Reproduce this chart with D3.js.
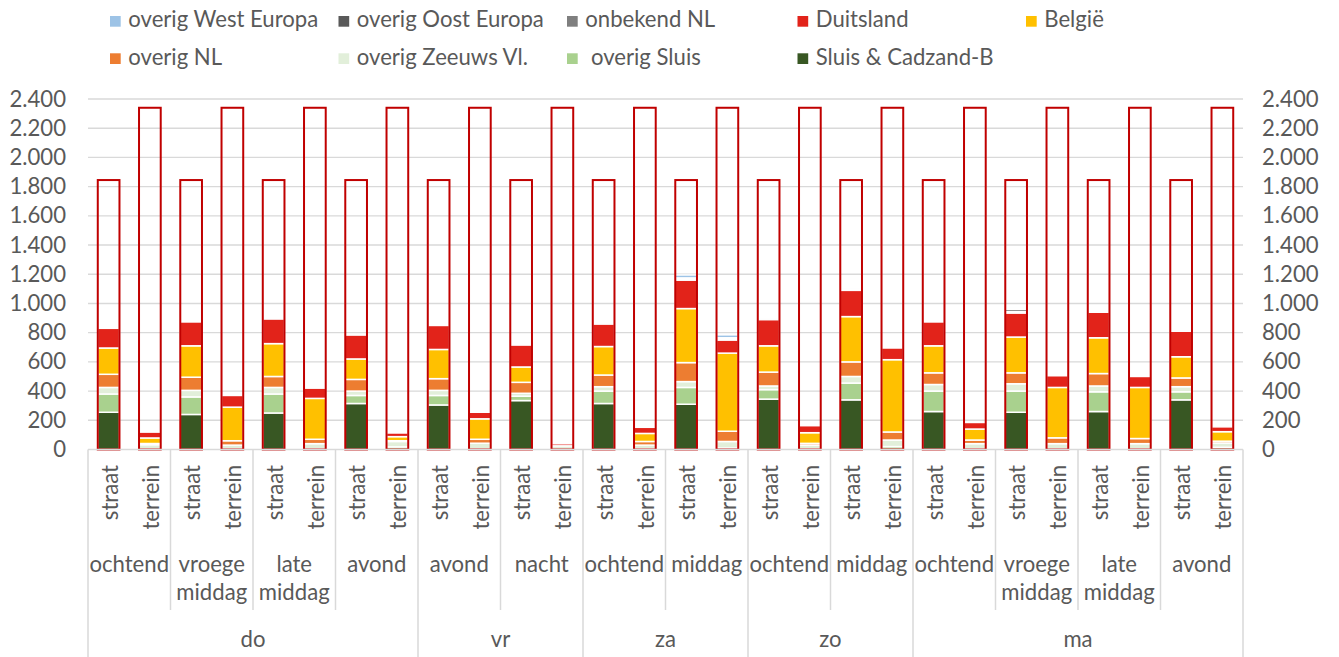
<!DOCTYPE html>
<html>
<head>
<meta charset="utf-8">
<script src="https://cdn.jsdelivr.net/npm/d3@7"></script>
<style>
  html, body { margin: 0; padding: 0; background: #ffffff; }
  svg text { font-family: Lato, "Open Sans", sans-serif; fill: #595959; white-space: pre; }
</style>
</head>
<body>
<svg id="chart" width="1339" height="657"></svg>
<script>
// ---------- data ----------
const days = ["do", "vr", "za", "zo", "ma"];
const dayPeriodCounts = [4, 2, 2, 2, 4];
const periods = ["ochtend", "vroege\nmiddag", "late\nmiddag", "avond",
                 "avond", "nacht",
                 "ochtend", "middag",
                 "ochtend", "middag",
                 "ochtend", "vroege\nmiddag", "late\nmiddag", "avond"];
const locations = ["straat", "terrein"];
const capacity = [1845, 2340]; // straat, terrein

const seriesNames = ["Sluis & Cadzand-B", " overig Sluis", "overig Zeeuws Vl.", "overig NL",
                     "België", "Duitsland", "onbekend NL", "overig Oost Europa", "overig West Europa"];
const seriesColors = ["#385723", "#A9D18E", "#E2EFDA", "#ED7D31",
                      "#FFC000", "#E2231A", "#7F7F7F", "#595959", "#9DC3E6"];

const sluisCadzand = [255,0,240,0,250,0,315,0,305,0,335,0,315,0,310,0,345,0,340,0,260,0,255,0,260,0,340,0];
const overigSluis  = [125,3,120,5,130,5,55,18,65,3,30,0,85,5,115,10,65,5,115,20,140,5,145,5,135,5,55,15];
const overigZeeuws = [45,30,45,25,45,35,30,37,35,40,20,25,30,25,40,45,25,25,45,45,45,35,50,35,40,35,35,30];
const overigNL     = [90,8,90,30,75,30,80,5,80,27,75,0,80,25,130,70,95,12,100,55,80,25,75,40,85,35,60,12];
const belgie       = [180,38,215,230,225,280,140,28,200,140,105,0,195,55,370,535,180,73,310,495,185,75,245,345,245,350,145,65];
const duitsland    = [135,40,165,80,170,70,165,25,165,45,150,14,155,42,195,90,180,48,180,80,165,45,165,80,175,75,175,33];
const onbekendNL   = [3,0,3,0,3,0,2,0,3,0,0,0,5,0,10,10,3,0,10,0,5,0,10,0,10,0,2,0];
const oostEuropa   = [2,0,2,0,2,0,0,0,2,0,0,0,3,0,5,5,2,0,5,0,3,0,15,0,5,0,0,0];
const westEuropa   = [2,0,2,0,2,0,0,0,2,0,0,0,2,0,20,20,0,0,5,0,7,0,10,0,10,0,0,0];

const seriesValues = [sluisCadzand, overigSluis, overigZeeuws, overigNL, belgie,
                      duitsland, onbekendNL, oostEuropa, westEuropa];
const legendOrder = [8, 7, 6, 5, 4, 3, 2, 1, 0];
const yTicks = d3.range(0, 2401, 200);

// ---------- layout ----------
const W = 1339, H = 657;
const plotL = 88, plotR = 1243, plotT = 99, plotB = 449.5;
const svg = d3.select("#chart");
svg.append("rect").attr("width", W).attr("height", H).attr("fill", "#fff");

// font fit: Calibri-like width
const probe = svg.append("text").attr("font-size", 100).text("overig West Europa");
const pw = probe.node().getComputedTextLength();
probe.remove();
const FS = Math.min(26, 100 * 190 / pw);

const nBars = periods.length * locations.length;
const x = d3.scaleBand().domain(d3.range(nBars)).range([plotL, plotR])
  .paddingInner(0.474).paddingOuter(0.237);
const y = d3.scaleLinear().domain([0, 2400]).range([plotB, plotT]);
const step = x.step();

const loc = d3.formatLocale({decimal: ",", thousands: ".", grouping: [3], currency: ["", ""]});
const fmt = loc.format(",d");

// gridlines
svg.append("g").selectAll("line").data(yTicks.filter(d => d > 0)).join("line")
  .attr("x1", plotL).attr("x2", plotR)
  .attr("y1", d => y(d)).attr("y2", d => y(d))
  .attr("stroke", "#D9D9D9").attr("stroke-width", 1.4);

// axes tick labels
const leftAxis = d3.axisLeft(y).tickValues(yTicks).tickFormat(fmt).tickSize(0).tickPadding(0);
const gl = svg.append("g").attr("transform", `translate(66,0)`).call(leftAxis);
gl.select(".domain").remove();
gl.selectAll("text").attr("font-size", FS).attr("fill", "#595959")
  .style("font-family", "Lato, 'Open Sans', sans-serif");
const rightAxis = d3.axisRight(y).tickValues(yTicks).tickFormat(fmt).tickSize(0).tickPadding(0);
const gr = svg.append("g").attr("transform", `translate(1262,0)`).call(rightAxis);
gr.select(".domain").remove();
gr.selectAll("text").attr("font-size", FS).attr("fill", "#595959")
  .style("font-family", "Lato, 'Open Sans', sans-serif");

// stacked bars
const barIdx = d3.range(nBars);
const stackData = barIdx.map(i => {
  const o = {i};
  seriesValues.forEach((arr, s) => o[s] = arr[i]);
  return o;
});
const stack = d3.stack().keys(d3.range(seriesValues.length));
const stacked = stack(stackData);
const gBars = svg.append("g");
stacked.forEach((layer, s) => {
  gBars.append("g").selectAll("rect")
    .data(layer.filter(d => d[1] - d[0] > 0))
    .join("rect")
    .attr("x", d => x(d.data.i))
    .attr("width", x.bandwidth())
    .attr("y", d => y(d[1]))
    .attr("height", d => y(d[0]) - y(d[1]))
    .attr("fill", seriesColors[s])
    .attr("stroke", "#ffffff")
    .attr("stroke-width", 1.5);
});

// capacity outlines
svg.append("g").selectAll("rect").data(barIdx).join("rect")
  .attr("x", i => x(i))
  .attr("width", x.bandwidth())
  .attr("y", i => y(capacity[i % 2]))
  .attr("height", i => y(0) - y(capacity[i % 2]))
  .attr("fill", "none")
  .attr("stroke", "#C00000")
  .attr("stroke-width", 2);

// category axis
const axisCol = "#D9D9D9";
const gc = svg.append("g");
gc.append("line").attr("x1", plotL).attr("x2", plotR).attr("y1", plotB).attr("y2", plotB)
  .attr("stroke", axisCol).attr("stroke-width", 1.5);
const dayStarts = [0];
dayPeriodCounts.forEach((c, k) => dayStarts.push(dayStarts[k] + c));
const pairX = p => plotL + p * 2 * step;
d3.range(periods.length + 1).forEach(p => {
  const isDay = dayStarts.includes(p);
  gc.append("line").attr("x1", pairX(p)).attr("x2", pairX(p))
    .attr("y1", plotB).attr("y2", isDay ? H : 610)
    .attr("stroke", axisCol).attr("stroke-width", 1.5);
});
// level-1 labels (rotated)
barIdx.forEach(i => {
  const cx = x(i) + x.bandwidth() / 2;
  gc.append("text")
    .attr("transform", `translate(${cx + 9},465) rotate(-90)`)
    .attr("text-anchor", "end")
    .attr("font-size", FS)
    .text(locations[i % 2]);
});
// level-2 labels
periods.forEach((p, k) => {
  const cx = pairX(k) + step;
  const lines = p.split("\n");
  lines.forEach((ln, j) => {
    gc.append("text").attr("x", cx).attr("y", 571.7 + j * 28.5)
      .attr("text-anchor", "middle").attr("font-size", FS).text(ln);
  });
});
// level-3 labels
days.forEach((d, k) => {
  const cx = (pairX(dayStarts[k]) + pairX(dayStarts[k + 1])) / 2;
  gc.append("text").attr("x", cx).attr("y", 646.7)
    .attr("text-anchor", "middle").attr("font-size", FS).text(d);
});

// legend
const legCols = [110, 338.5, 567, 797.5, 1026];
const legRows = [16, 53.3];
legendOrder.forEach((s, k) => {
  const row = k < 5 ? 0 : 1;
  const col = k < 5 ? k : k - 5;
  const g = svg.append("g").attr("transform", `translate(${legCols[col]},${legRows[row]})`);
  g.append("rect").attr("width", 10.7).attr("height", 10.7).attr("fill", seriesColors[s]);
  g.append("text").attr("x", 18.3).attr("y", 11.3).attr("font-size", FS).text(seriesNames[s]);
});
</script>
</body>
</html>
